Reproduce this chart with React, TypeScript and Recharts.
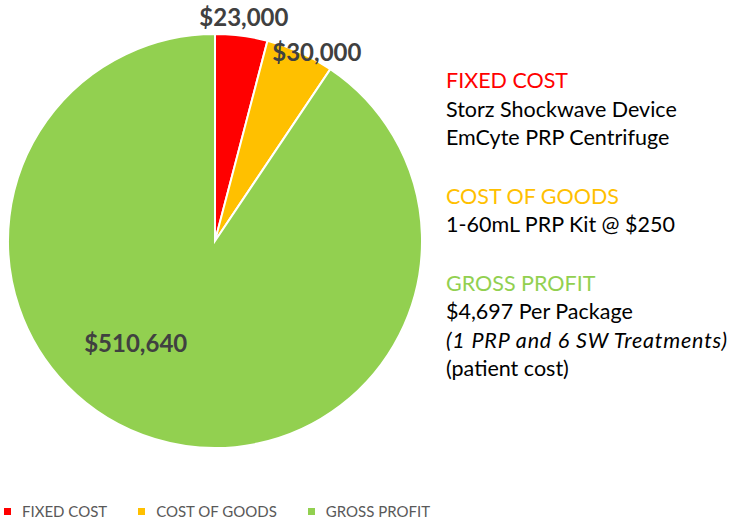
import React from 'react';
import { PieChart, Pie, Cell, Legend } from 'recharts';

const categories = ['FIXED COST', 'COST OF GOODS', 'GROSS PROFIT'];
const amounts = [23000, 30000, 510640];
const sliceColors = ['#FF0000', '#FFC000', '#92D050'];

// side notes, one block per category
const notes = [
  ['Storz Shockwave Device', 'EmCyte PRP Centrifuge'],
  ['1-60mL PRP Kit @ $250'],
  ['$4,697 Per Package', '(1 PRP and 6 SW Treatments)', '(patient cost)'],
];
const italicLines = ['(1 PRP and 6 SW Treatments)'];

const pieData = categories.map((name, i) => ({ name, value: amounts[i] }));

// per-slice label placement: extra radius and angle shift (degrees)
const labelRadius = [19, 8, -78];
const labelShift = [0, -4, -21];

const FONT = 'Lato, "Open Sans", sans-serif';
const RAD = Math.PI / 180;

const renderLabel = (props: any) => {
  const { cx, cy, midAngle, outerRadius, value, index } = props;
  const r = outerRadius + labelRadius[index];
  const a = (midAngle + labelShift[index]) * RAD;
  const x = cx + r * Math.cos(a);
  const y = cy - r * Math.sin(a);
  return (
    <text
      x={x}
      y={y}
      textAnchor="middle"
      dominantBaseline="central"
      fill="#404040"
      fontSize={24}
      fontWeight={700}
      fontFamily={FONT}
    >
      {'$' + value.toLocaleString('en-US')}
    </text>
  );
};

const renderLegend = () => (
  <div style={{ display: 'flex', alignItems: 'center', fontFamily: FONT, fontSize: 15, color: '#595959' }}>
    {categories.map((c, i) => (
      <div key={c} style={{ display: 'flex', alignItems: 'center', marginRight: 31 }}>
        <span style={{ width: 7, height: 7, background: sliceColors[i], display: 'inline-block', marginRight: 11 }} />
        <span>{c}</span>
      </div>
    ))}
  </div>
);

const App: React.FC = () => {
  return (
    <div style={{ position: 'absolute', left: 0, top: 0, width: 732, height: 520, background: '#fff' }}>
      <PieChart width={732} height={520} margin={{ top: 0, right: 0, bottom: 0, left: 0 }}>
        <Pie
          data={pieData}
          dataKey="value"
          cx={215}
          cy={241}
          outerRadius={207}
          startAngle={90}
          endAngle={-270}
          stroke="#fff"
          strokeWidth={2}
          label={renderLabel}
          labelLine={false}
          isAnimationActive={false}
        >
          {pieData.map((d, i) => (
            <Cell key={d.name} fill={sliceColors[i]} />
          ))}
        </Pie>
        <Legend content={renderLegend} wrapperStyle={{ left: 4, top: 502, width: 728 }} />
      </PieChart>

      <div style={{ position: 'absolute', left: 446, top: 66, fontFamily: FONT, fontSize: 21.5, lineHeight: '28.5px', color: '#000' }}>
        {categories.map((c, i) => (
          <div key={c} style={{ marginBottom: 30 }}>
            <div style={{ color: sliceColors[i] }}>{c}</div>
            {notes[i].map((line) => (
              <div
                key={line}
                style={{
                  whiteSpace: 'nowrap',
                  fontStyle: italicLines.includes(line) ? 'italic' : 'normal',
                  letterSpacing: italicLines.includes(line) ? 0.8 : 0,
                }}
              >
                {line}
              </div>
            ))}
          </div>
        ))}
      </div>
    </div>
  );
};

export default App;
